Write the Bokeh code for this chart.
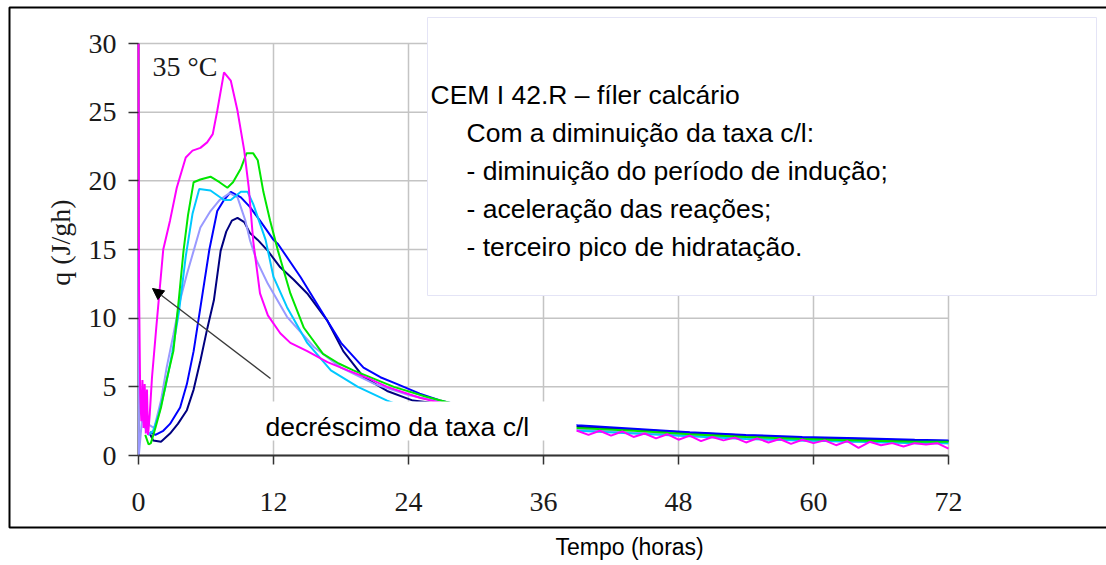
from bokeh.plotting import figure
from bokeh.models import Range1d, FixedTicker, Label, BoxAnnotation, Arrow, NormalHead, LinearAxis
from bokeh.embed import file_html
from bokeh.resources import INLINE
import math

# ---------------- data ----------------
x_ticks = [0, 12, 24, 36, 48, 60, 72]
y_ticks = [0, 5, 10, 15, 20, 25, 30]

magenta_t = [0, 0.05, 0.15, 0.25, 0.35, 0.45, 0.55, 0.65, 0.75, 0.85, 1.0, 1.2, 1.6, 2.2, 2.8, 3.4,
             4.2, 4.8, 5.5, 6.1, 6.6, 7.0, 7.6, 8.2, 8.8, 9.4, 9.8, 10.2, 10.8, 11.5, 12.6, 13.5,
             15.0, 16.8, 18.6, 20.5, 22.1, 25.0, 28.0,
             39, 40, 41, 42, 43, 44, 45, 46, 47, 48, 49, 50, 51, 52, 53, 54, 55, 56, 57, 58,
             59, 60, 61, 62, 63, 64, 65, 66, 67, 68, 69, 70, 71, 72]
magenta_q = [30, 12, 4.5, 2.5, 5.5, 2.0, 5.2, 1.6, 4.8, 1.5, 3.0, 5.7, 9.5, 15.0, 17.1, 19.5,
             21.7, 22.2, 22.4, 22.8, 23.4, 25.1, 27.9, 27.3, 25.1, 22.2, 19.5, 15.6, 11.8, 10.2, 8.9, 8.2,
             7.6, 6.8, 6.2, 5.6, 5.0, 4.2, 3.6,
             1.8, 1.5, 1.8, 1.45, 1.75, 1.35, 1.6, 1.25, 1.55, 1.15, 1.45, 1.05, 1.35, 1.1, 1.3, 0.95,
             1.25, 0.95, 1.2, 0.85, 1.15, 0.9, 1.1, 0.75, 1.05, 0.55, 1.0, 0.75, 0.9, 0.65,
             0.9, 0.8, 0.9, 0.5]

green_t = [0.6, 0.9, 1.1, 1.5, 2.0, 2.5, 3.1, 3.6, 4.0, 4.4, 4.9, 5.5, 6.4, 7.2, 7.9, 8.4, 9.1,
           9.6, 10.2, 10.6, 11.1, 11.7, 12.4, 13.5, 14.7, 16.4, 17.8, 19.1, 20.9, 22.7, 25.5, 28.3,
           39, 44, 49, 54, 59, 64, 69, 72]
green_q = [1.5, 0.8, 0.9, 2.0, 3.5, 5.5, 7.6, 11.5, 14.9, 17.5, 19.9, 20.1, 20.3, 19.9, 19.5, 19.9, 20.9,
           22.0, 22.0, 21.5, 19.2, 17.1, 14.9, 11.8, 9.3, 7.4, 6.7, 6.2, 5.6, 5.0, 4.3, 3.7,
           2.0, 1.8, 1.55, 1.35, 1.2, 1.1, 1.0, 1.0]

cyan_t = [0.5, 0.9, 1.3, 1.8, 2.4, 3.0, 3.6, 4.2, 4.8, 5.4, 6.4, 7.6, 8.2, 9.1, 9.7, 10.2, 11.3,
          12.0, 13.2, 15.0, 17.1, 19.5, 22.1, 24.0,
          39, 44, 49, 54, 59, 64, 69, 72]
cyan_q = [2.2, 1.5, 1.8, 3.0, 5.0, 7.5, 10.5, 14.5, 17.6, 19.4, 19.3, 18.6, 18.6, 19.2, 19.2, 18.3, 15.7,
          13.0, 10.8, 8.2, 6.2, 5.0, 4.0, 3.4,
          1.8, 1.6, 1.4, 1.2, 1.1, 1.0, 0.9, 0.9]

lavender_t = [0, 0.03, 0.3, 0.8, 1.4, 2.0, 2.5, 3.1, 3.7, 4.3, 4.9, 5.5, 6.4, 7.2, 8.1, 8.8, 9.5,
              9.9, 10.5, 11.5, 13.2, 15.6, 18.0, 21.0, 24.0, 28.0,
              39, 44, 49, 54, 59, 64, 69, 72]
lavender_q = [15, 0, 2.5, 2.3, 2.0, 4.0, 6.4, 8.8, 11.3, 13.2, 14.9, 16.6, 17.8, 18.6, 19.1, 18.8, 17.1,
              15.7, 14.2, 12.5, 10.1, 7.9, 6.4, 5.2, 4.4, 3.7,
              1.9, 1.65, 1.45, 1.25, 1.1, 1.0, 0.95, 0.9]

blue_t = [1.0, 1.5, 2.2, 2.8, 3.7, 4.3, 4.9, 5.6, 6.3, 7.0, 7.6, 8.2, 9.1, 9.9, 10.8, 12.0, 12.4,
          14.4, 16.2, 18.0, 20.0, 21.5, 23.0, 25.0, 26.8, 28.4,
          39, 44, 49, 54, 59, 64, 69, 72]
blue_q = [1.7, 1.5, 1.8, 2.3, 3.5, 5.2, 7.6, 11.3, 15.0, 17.8, 18.6, 19.2, 18.8, 18.1, 17.1, 15.7, 15.4,
          13.0, 10.6, 8.2, 6.4, 5.7, 5.2, 4.5, 4.0, 3.7,
          2.2, 1.95, 1.7, 1.5, 1.35, 1.25, 1.15, 1.1]

navy_t = [1.0, 1.3, 2.0, 2.8, 3.5, 4.3, 4.9, 5.5, 6.1, 6.7, 7.3, 7.8, 8.3, 8.8, 9.4, 9.9, 10.6,
          11.5, 12.6, 13.8, 15.0, 16.8, 18.2, 20.0, 22.1, 24.4, 28.4,
          39, 44, 49, 54, 59, 64, 69, 72]
navy_q = [1.6, 1.1, 1.0, 1.6, 2.3, 3.3, 4.8, 6.9, 9.2, 11.3, 14.9, 16.3, 17.1, 17.3, 17.0, 16.2, 15.7,
          14.9, 13.7, 12.8, 11.8, 9.8, 7.6, 5.7, 4.7, 4.0, 3.6,
          2.1, 1.9, 1.65, 1.45, 1.3, 1.2, 1.1, 1.05]

series = [
    (navy_t, navy_q, "#000080"),
    (blue_t, blue_q, "#0000ff"),
    (lavender_t, lavender_q, "#9999ff"),
    (cyan_t, cyan_q, "#00c8ff"),
    (green_t, green_q, "#00e600"),
    (magenta_t, magenta_q, "#ff00ff"),
]

# ---------------- layout ----------------
W, H = 1106, 565
# pixel positions of the plotting area (data 0..72 x 0..30)
FL, FR, FT, FB = 138, 948, 43, 455
X_MIN, X_MAX, Y_MIN, Y_MAX = 0, 72, 0, 30
BASE_SHIFT = 9  # label baseline correction in pixels


def dx(px):
    return X_MIN + (px - FL) * (X_MAX - X_MIN) / (FR - FL)


def dy(py):
    return Y_MIN + (FB - py) * (Y_MAX - Y_MIN) / (FB - FT)


p = figure(width=W, height=H, output_backend="svg", toolbar_location=None,
           x_range=Range1d(dx(0), dx(W)), y_range=Range1d(dy(H), dy(0)),
           x_axis_type=None, y_axis_type=None, min_border=0)
p.outline_line_color = None
p.background_fill_color = "white"
p.border_fill_color = "white"
p.grid.visible = False

# grid lines of the chart area
grid_color = "#c4c4c4"
p.segment(x0=[X_MIN] * len(y_ticks), y0=y_ticks, x1=[X_MAX] * len(y_ticks), y1=y_ticks,
          line_color=grid_color, line_width=1.5)
p.segment(x0=x_ticks, y0=[Y_MIN] * len(x_ticks), x1=x_ticks, y1=[Y_MAX] * len(x_ticks),
          line_color=grid_color, line_width=1.5)
# y axis line (drawn under the curves)
p.segment(x0=[X_MIN], y0=[Y_MIN], x1=[X_MIN], y1=[Y_MAX], line_color="#333333", line_width=2)

xaxis = LinearAxis(fixed_location=Y_MIN, bounds=(X_MIN, X_MAX), ticker=FixedTicker(ticks=x_ticks))
yaxis = LinearAxis(fixed_location=X_MIN, bounds=(Y_MIN, Y_MAX), ticker=FixedTicker(ticks=y_ticks))
for ax in (xaxis, yaxis):
    ax.axis_line_color = "#333333"
    ax.axis_line_width = 2
    ax.major_tick_line_color = "#333333"
    ax.major_tick_line_width = 1.5
    ax.major_tick_in = 0
    ax.minor_tick_line_color = None
    ax.major_label_text_font = "Liberation Serif"
    ax.major_label_text_font_size = "28px"
    ax.major_label_text_color = "#1a1a1a"
yaxis.axis_line_color = None
xaxis.major_tick_out = 9
yaxis.major_tick_out = 10
xaxis.major_label_standoff = 28
yaxis.major_label_standoff = 12
p.add_layout(xaxis, "below")
p.add_layout(yaxis, "left")

for t, q, c in series:
    p.line(t, q, line_color=c, line_width=2)

# white boxes covering parts of the chart (as in the original figure)
p.add_layout(BoxAnnotation(left=dx(258), right=dx(576), top=dy(401), bottom=dy(440),
                           fill_color="white", fill_alpha=1, line_color=None, level="annotation"))
p.add_layout(BoxAnnotation(left=dx(427), right=dx(1096), top=dy(17), bottom=dy(295),
                           fill_color="white", fill_alpha=1, line_color="#e4e4f6", line_alpha=1,
                           line_width=1, level="annotation"))
# outer frame
p.add_layout(BoxAnnotation(left=dx(9), right=dx(1130), top=dy(7), bottom=dy(527),
                           fill_color=None, fill_alpha=0, line_color="black", line_alpha=1,
                           line_width=2, level="annotation"))

p.add_layout(Arrow(end=NormalHead(size=11, fill_color="black", line_color="black", line_width=1),
                   x_start=dx(270), y_start=dy(378), x_end=dx(152), y_end=dy(288),
                   line_color="#3a3a3a", line_width=1.3))

sans = "Liberation Sans"
serif = "Liberation Serif"

text_lines = [
    ("CEM I 42.R \u2013 f\u00edler calc\u00e1rio", 430, 103),
    ("Com a diminui\u00e7\u00e3o da taxa c/l:", 466, 141),
    ("- diminui\u00e7\u00e3o do per\u00edodo de indu\u00e7\u00e3o;", 466, 179),
    ("- acelera\u00e7\u00e3o das rea\u00e7\u00f5es;", 466, 217),
    ("- terceiro pico de hidrata\u00e7\u00e3o.", 466, 255),
]
for txt, px, py in text_lines:
    p.add_layout(Label(x=dx(px), y=dy(py - BASE_SHIFT), text=txt, text_font=sans,
                       text_font_size="26.5px", text_color="black", text_baseline="alphabetic",
                       text_align="left"))

p.add_layout(Label(x=dx(265), y=dy(435 - BASE_SHIFT), text="decr\u00e9scimo da taxa c/l",
                   text_font=sans, text_font_size="26.5px", text_color="black",
                   text_baseline="alphabetic"))
p.add_layout(Label(x=dx(152), y=dy(75 - BASE_SHIFT), text="35 \u00b0C", text_font=serif,
                   text_font_size="28px", text_color="#1a1a1a", text_baseline="alphabetic"))
p.add_layout(Label(x=dx(60), y=dy(242), text="q (J/gh)", text_font=serif,
                   text_font_size="28px", text_color="#1a1a1a", angle=math.pi / 2,
                   text_align="center", text_baseline="middle"))
p.add_layout(Label(x=dx(555), y=dy(555 - BASE_SHIFT), text="Tempo (horas)", text_font=sans,
                   text_font_size="23px", text_color="black", text_baseline="alphabetic"))

open("out.html", "w").write(file_html(p, INLINE))
